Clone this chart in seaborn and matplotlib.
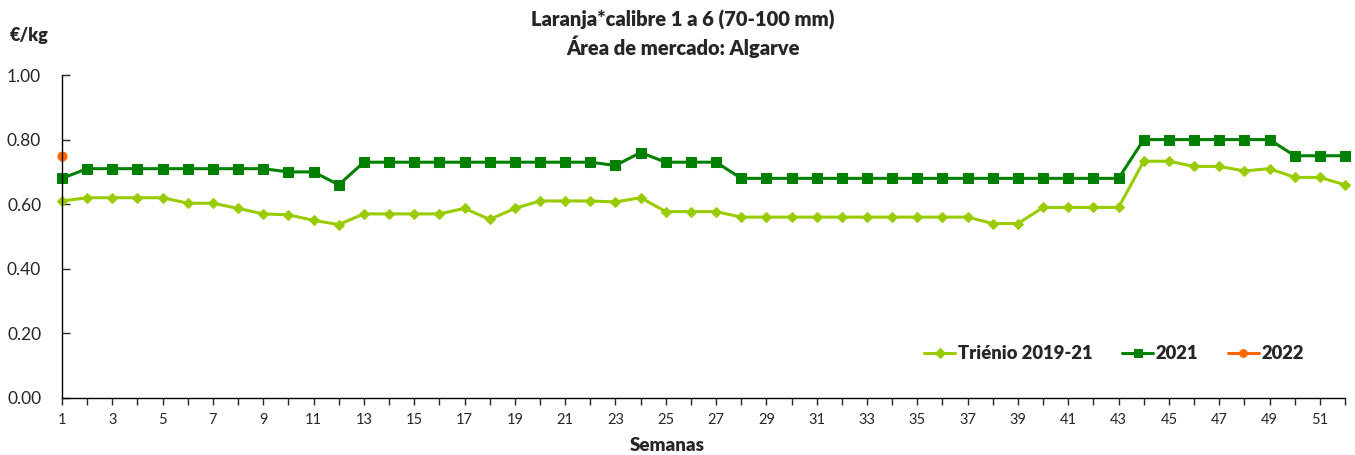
import matplotlib
matplotlib.use("Agg")
import matplotlib.pyplot as plt
import seaborn as sns
import numpy as np
import pandas as pd

weeks = list(range(1, 53))
trienio = [0.61, 0.62, 0.62, 0.62, 0.62, 0.603, 0.603, 0.587, 0.57, 0.567,
           0.55, 0.537, 0.57, 0.57, 0.57, 0.57, 0.587, 0.553, 0.587, 0.61,
           0.61, 0.61, 0.607, 0.62, 0.577, 0.577, 0.577, 0.56, 0.56, 0.56,
           0.56, 0.56, 0.56, 0.56, 0.56, 0.56, 0.56, 0.54, 0.54, 0.59,
           0.59, 0.59, 0.59, 0.733, 0.733, 0.717, 0.717, 0.703, 0.71, 0.683,
           0.683, 0.66]
y2021 = [0.68, 0.71, 0.71, 0.71, 0.71, 0.71, 0.71, 0.71, 0.71, 0.70,
         0.70, 0.66, 0.73, 0.73, 0.73, 0.73, 0.73, 0.73, 0.73, 0.73,
         0.73, 0.73, 0.72, 0.76, 0.73, 0.73, 0.73, 0.68, 0.68, 0.68,
         0.68, 0.68, 0.68, 0.68, 0.68, 0.68, 0.68, 0.68, 0.68, 0.68,
         0.68, 0.68, 0.68, 0.80, 0.80, 0.80, 0.80, 0.80, 0.80, 0.75,
         0.75, 0.75]
weeks2022 = [1]
y2022 = [0.75]
series_names = ["Triénio 2019-21", "2021", "2022"]
yticks = [0.0, 0.2, 0.4, 0.6, 0.8, 1.0]

sns.set_style("white")
plt.rcParams['font.family'] = ['Lato', 'DejaVu Sans']

fig = plt.figure(figsize=(13.55, 4.55), dpi=100)
ax = fig.add_axes([62/1355, 1-398/455, (1345-62)/1355, (398-75)/455])

sns.lineplot(x=weeks, y=trienio, ax=ax, color="#99CC00", marker="D", markersize=5.5,
             markeredgecolor="#99CC00", linewidth=2.2, label=series_names[0], clip_on=False)
sns.lineplot(x=weeks, y=y2021, ax=ax, color="#008000", marker="s", markersize=6.5,
             markeredgecolor="#008000", linewidth=2.2, label=series_names[1], clip_on=False)
sns.lineplot(x=weeks2022, y=y2022, ax=ax, color="#FF6600", marker="o", markersize=6.5,
             markeredgecolor="#FF6600", linewidth=2.2, label=series_names[2], clip_on=False)

ax.set_xlim(1, 52)
ax.set_ylim(0, 1.0)
ax.set_yticks(yticks)
ax.set_yticklabels([f"{v:.2f}" for v in yticks], fontsize=12.5)
ax.set_xticks(weeks)
ax.set_xticklabels([str(w) if w % 2 == 1 else "" for w in weeks], fontsize=10.5)
ax.tick_params(axis="y", direction="in", length=6, width=1, pad=15, left=True)
ax.tick_params(axis="x", direction="out", length=5, width=1, pad=6, bottom=True)

for s in ["top", "right"]:
    ax.spines[s].set_visible(False)
for s in ["left", "bottom"]:
    ax.spines[s].set_color("black")
    ax.spines[s].set_linewidth(1)

ax.set_xlabel("Semanas", fontsize=13.5, fontweight="heavy", labelpad=7)
ax.xaxis.set_label_coords((667 - 62) / 1283, -0.12)
ax.set_ylabel("")
fig.text(10/1355, 1-35/455, "€/kg", fontsize=13, fontweight="heavy", va="center", ha="left")
fig.text(683/1355, 1-20/455, "Laranja*calibre 1 a 6 (70-100 mm)", fontsize=14.5,
         fontweight="heavy", ha="center", va="center")
fig.text(683/1355, 1-47/455, "Área de mercado: Algarve", fontsize=14.5,
         fontweight="heavy", ha="center", va="center")

leg = ax.legend(loc="center right", bbox_to_anchor=(0.981, 0.137), ncol=3, frameon=False,
                fontsize=13.2, handlelength=1.7, handletextpad=0.15, columnspacing=1.6,
                markerscale=0.85)
for t in leg.get_texts():
    t.set_fontweight("heavy")

fig.savefig("out.png", dpi=100)
